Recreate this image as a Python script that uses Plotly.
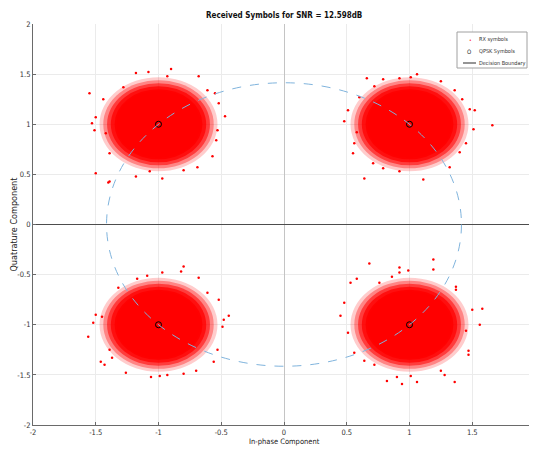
import plotly.graph_objects as go

# ---------------- data ----------------
qpsk_i = [-1, 1, -1, 1]
qpsk_q = [1, 1, -1, -1]

# sparse received symbols (outer fringe of each cloud)
rx_i_tl = [-1.55, -1.50, -1.51, -1.53, -1.50, -1.39, -1.08, -0.90, -1.18, -0.93, -0.68, -0.47, -0.53, -0.52,
           -0.57, -0.97, -1.18, -1.44, -1.39, -0.69, -0.61, -1.28, -1.42, -0.80, -1.07, -0.54, -0.55, -1.40]
rx_q_tl = [1.31, 1.07, 0.94, 1.01, 0.51, 0.43, 1.52, 1.55, 1.51, 1.48, 1.48, 1.08, 0.94, 1.21,
           0.68, 0.46, 0.48, 1.25, 0.71, 0.57, 1.34, 1.37, 0.91, 0.54, 0.53, 0.84, 1.31, 0.42]
rx_i_tr = [0.48, 0.51, 0.56, 0.58, 0.64, 0.66, 0.72, 0.79, 0.92, 1.01, 1.06, 1.25, 1.42, 1.48,
           1.52, 1.51, 1.66, 1.45, 1.40, 1.32, 1.11, 0.92, 0.79, 0.71, 0.55, 1.36, 0.60]
rx_q_tr = [1.03, 1.14, 0.81, 0.92, 0.46, 1.46, 1.38, 1.45, 1.46, 1.47, 1.50, 1.43, 1.25, 1.15,
           1.14, 0.95, 0.99, 0.81, 0.72, 0.57, 0.45, 0.53, 0.56, 0.61, 0.71, 1.34, 1.27]
rx_i_bl = [-1.56, -1.52, -1.50, -1.46, -1.43, -1.37, -1.26, -1.06, -0.99, -0.93, -0.80, -0.70, -0.56, -0.53,
           -0.49, -0.48, -0.44, -0.52, -0.61, -0.68, -0.80, -0.82, -0.97, -1.09, -1.17, -1.32, -1.45, -1.39]
rx_q_bl = [-1.12, -0.98, -0.90, -1.37, -1.40, -1.33, -1.48, -1.52, -1.51, -1.50, -1.49, -1.46, -1.37, -1.25,
           -1.02, -0.95, -0.91, -0.75, -0.68, -0.53, -0.42, -0.47, -0.48, -0.51, -0.54, -0.63, -0.92, -1.25]
rx_i_br = [0.68, 0.45, 0.48, 0.53, 0.58, 0.51, 0.56, 0.64, 0.72, 0.82, 0.90, 0.94, 1.01, 1.06, 1.25, 1.28,
           1.36, 1.47, 1.47, 1.45, 1.56, 1.50, 1.58, 1.37, 1.37, 1.19, 1.19, 0.92, 0.99, 0.92, 0.86, 0.76]
rx_q_br = [-0.39, -0.91, -0.78, -0.58, -0.54, -1.08, -1.28, -1.36, -1.40, -1.56, -1.52, -1.59, -1.51, -1.57,
           -1.46, -1.50, -1.57, -1.26, -1.30, -1.06, -1.00, -0.85, -0.84, -0.65, -0.62, -0.35, -0.45, -0.43,
           -0.46, -0.48, -0.52, -0.58]

# estimated radii (data units) of the dense part of each cloud, with the
# share of the area covered by points at that radius
cloud_radii = [0.47, 0.44, 0.41, 0.38, 0.35, 0.33]
cloud_cover = [0.2, 0.35, 0.55, 0.75, 0.9, 1.0]

decision_radius = 1.414
boundary_x = [-2, 2]
boundary_y = [0, 0]

axis_ticks = [-2, -1.5, -1, -0.5, 0, 0.5, 1, 1.5, 2]
axis_tick_text = ["-2", "-1.5", "-1", "-0.5", "0", "0.5", "1", "1.5", "2"]

title_text = "Received Symbols for SNR = 12.598dB"
x_title = "In-phase Component"
y_title = "Quatrature Component"
legend_names = ["RX symbols", "QPSK Symbols", "Decision Boundary"]

# ---------------- figure ----------------
FONT = "Liberation Sans Narrow, DejaVu Sans Condensed, Liberation Sans, Arial, sans-serif"
RED = "#ff0000"
W, H = 529, 445          # page body adds an 8 px offset
L, R, T, B = 25, 2, 16, 28
PW, PH = W - L - R, H - T - B


def px(fx):   # figure pixel -> paper x
    return (fx - L) / PW


def py(fy):   # figure pixel -> paper y
    return (H - B - fy) / PH


rx_i = rx_i_tl + rx_i_tr + rx_i_bl + rx_i_br
rx_q = rx_q_tl + rx_q_tr + rx_q_bl + rx_q_br

fig = go.Figure()

fig.add_trace(go.Scatter(
    x=rx_i, y=rx_q, mode="markers", name=legend_names[0],
    marker=dict(color=RED, size=2.5, line=dict(width=0)),
))
fig.add_trace(go.Scatter(
    x=qpsk_i, y=qpsk_q, mode="markers", name=legend_names[1],
    marker=dict(symbol="circle-open", color="#000000", size=6, line=dict(width=1)),
))
fig.add_trace(go.Scatter(
    x=boundary_x, y=boundary_y, mode="lines", name=legend_names[2],
    line=dict(color="#4d4d4d", width=1.2),
))

shapes = []
for cx, cy in zip(qpsk_i, qpsk_q):
    for r, op in zip(cloud_radii, cloud_cover):
        shapes.append(dict(
            type="circle", xref="x", yref="y",
            x0=cx - r, x1=cx + r, y0=cy - r, y1=cy + r,
            fillcolor=RED, opacity=op, line=dict(width=0), layer="between",
        ))
shapes.append(dict(
    type="circle", xref="x", yref="y",
    x0=-decision_radius, x1=decision_radius, y0=-decision_radius, y1=decision_radius,
    line=dict(color="#80b4dd", width=1, dash="dash"), fillcolor="rgba(0,0,0,0)", layer="above",
))

# hand-built compact legend (as in the reference)
bx0, bx1, by0, by1 = 449, 519, 24, 60
shapes.append(dict(type="rect", xref="paper", yref="paper",
                   x0=px(bx0), x1=px(bx1), y0=py(by1), y1=py(by0),
                   line=dict(color="#a0a0a0", width=1), fillcolor="white", layer="above"))
rows = [32, 43.5, 55]
shapes.append(dict(type="line", xref="paper", yref="paper",
                   x0=px(455), x1=px(468), y0=py(rows[2]), y1=py(rows[2]),
                   line=dict(color="#4d4d4d", width=1.2), layer="above"))

annotations = [
    dict(text="<b>" + title_text + "</b>", xref="paper", yref="paper", x=0.5, y=py(7.5),
         xanchor="center", yanchor="middle", showarrow=False,
         font=dict(family=FONT, size=8, color="#111111")),
    dict(text=x_title, xref="paper", yref="paper", x=0.5, y=py(433),
         xanchor="center", yanchor="middle", showarrow=False,
         font=dict(family=FONT, size=7.5, color="#222222")),
    dict(text=y_title, xref="paper", yref="paper", x=px(5), y=0.5, textangle=-90,
         xanchor="center", yanchor="middle", showarrow=False,
         font=dict(family=FONT, size=9, color="#222222")),
    dict(text="•", xref="paper", yref="paper", x=px(462), y=py(rows[0]),
         xanchor="center", yanchor="middle", showarrow=False,
         font=dict(family=FONT, size=5, color=RED)),
    dict(text="O", xref="paper", yref="paper", x=px(461), y=py(rows[1]),
         xanchor="center", yanchor="middle", showarrow=False,
         font=dict(family=FONT, size=6, color="#222222")),
]
for name, ry in zip(legend_names, rows):
    annotations.append(dict(text=name, xref="paper", yref="paper", x=px(469), y=py(ry),
                            xanchor="left", yanchor="middle", showarrow=False,
                            font=dict(family=FONT, size=5.5, color="#333333")))

axis_common = dict(
    range=[-2, 2], tickvals=axis_ticks, ticktext=axis_tick_text, automargin=False,
    showgrid=True, gridcolor="#ebebeb", gridwidth=1,
    showline=True, linecolor="#6a6a6a", linewidth=1,
    ticks="inside", ticklen=3, tickcolor="#6a6a6a",
    tickfont=dict(family=FONT, size=7.5, color="#333333"),
    mirror=False,
)

fig.update_layout(
    width=W, height=H,
    margin=dict(l=L, r=R, t=T, b=B),
    paper_bgcolor="white", plot_bgcolor="white",
    font=dict(family=FONT, size=8, color="#222222"),
    xaxis=dict(axis_common, zeroline=True, zerolinecolor="#c4c4c4", zerolinewidth=1),
    yaxis=dict(axis_common, zeroline=False),
    shapes=shapes,
    annotations=annotations,
    showlegend=False,
)

fig.write_html("out.html")
